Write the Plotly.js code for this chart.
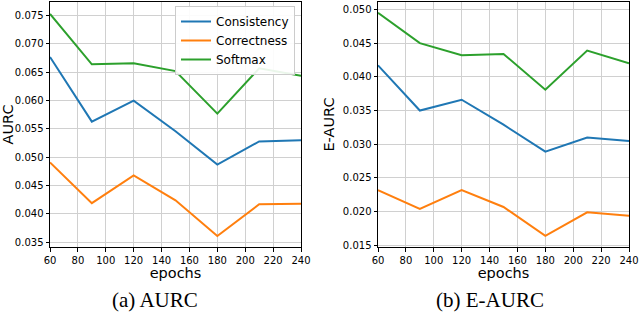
<!DOCTYPE html>
<html><head><meta charset="utf-8">
<script src="https://cdn.plot.ly/plotly-3.0.1.min.js"></script>
<style>body{margin:0;padding:0;}#chart{width:640px;height:315px;}</style>
</head><body><div id="chart"></div>
<script>
const epochs = [60, 90, 120, 150, 180, 210, 240];
const aurcConsistency = [0.0677, 0.0563, 0.0600, 0.0546, 0.0487, 0.0528, 0.0530];
const aurcCorrectness = [0.0491, 0.0419, 0.0468, 0.0424, 0.0361, 0.0417, 0.0418];
const aurcSoftmax     = [0.0753, 0.0664, 0.0666, 0.0652, 0.0577, 0.0657, 0.0644];
const eaurcConsistency = [0.0417, 0.0350, 0.0366, 0.0329, 0.0289, 0.0310, 0.0305];
const eaurcCorrectness = [0.0232, 0.0204, 0.0232, 0.0207, 0.0164, 0.0199, 0.0194];
const eaurcSoftmax     = [0.0495, 0.0450, 0.0432, 0.0434, 0.0381, 0.0439, 0.0420];
const seriesNames = ['Consistency', 'Correctness', 'Softmax'];
const colors = ['#1f77b4', '#ff7f0e', '#2ca02c'];
const xTicks = [60, 80, 100, 120, 140, 160, 180, 200, 220, 240];

const leftData = [aurcConsistency, aurcCorrectness, aurcSoftmax];
const rightData = [eaurcConsistency, eaurcCorrectness, eaurcSoftmax];
const traces = [];
leftData.forEach((ys, i) => traces.push({x: epochs, y: ys, type: 'scatter', mode: 'lines', name: seriesNames[i],
  line: {color: colors[i], width: 2}, xaxis: 'x', yaxis: 'y', showlegend: true}));
rightData.forEach((ys, i) => traces.push({x: epochs, y: ys, type: 'scatter', mode: 'lines', name: seriesNames[i],
  line: {color: colors[i], width: 2}, xaxis: 'x2', yaxis: 'y2', showlegend: false}));

const font = {family: 'DejaVu Sans', size: 10, color: '#000'};
const titleFont = {family: 'DejaVu Sans', size: 14.5, color: '#000'};
const serif = {family: '"Liberation Serif", "DejaVu Serif", serif', size: 21, color: '#000'};
const axBase = {showline: true, mirror: true, linecolor: '#000', linewidth: 1, ticks: 'outside', ticklen: 3.5,
  tickcolor: '#000', showgrid: true, gridcolor: '#d0d0d0', gridwidth: 1, zeroline: false, tickfont: font};
const yTop = 1 - 2/315, yBot = 1 - 247/315;
const layout = {
  width: 640, height: 315, margin: {l: 0, r: 0, t: 0, b: 0},
  paper_bgcolor: '#fff', plot_bgcolor: '#fff', font: font,
  xaxis: Object.assign({}, axBase, {domain: [50/640, 301/640], range: [60, 240], tickvals: xTicks,
    title: {text: 'epochs', font: titleFont, standoff: 3}}),
  yaxis: Object.assign({}, axBase, {domain: [yBot, yTop], range: [0.03417, 0.0774], tickvals: [0.035,0.040,0.045,0.050,0.055,0.060,0.065,0.070,0.075],
    tickformat: '.3f', title: {text: 'AURC', font: titleFont, standoff: 4}}),
  xaxis2: Object.assign({}, axBase, {domain: [378/640, 629/640], range: [60, 240], tickvals: xTicks, anchor: 'y2',
    title: {text: 'epochs', font: titleFont, standoff: 3}}),
  yaxis2: Object.assign({}, axBase, {domain: [yBot, yTop], range: [0.01476, 0.0511], anchor: 'x2',
    tickvals: [0.015,0.020,0.025,0.030,0.035,0.040,0.045,0.050], tickformat: '.3f',
    title: {text: 'E-AURC', font: titleFont, standoff: 4}}),
  legend: {x: 295/640, y: 1 - 6/315, xanchor: 'right', yanchor: 'top', bgcolor: 'rgba(255,255,255,0.9)',
    bordercolor: '#cccccc', borderwidth: 1, font: {family: 'DejaVu Sans', size: 12}, tracegroupgap: 0},
  annotations: [
    {text: '(a) AURC', xref: 'paper', yref: 'paper', x: 155/640, y: 1 - 314/315, xanchor: 'center', yanchor: 'bottom',
     showarrow: false, font: serif},
    {text: '(b) E-AURC', xref: 'paper', yref: 'paper', x: 490/640, y: 1 - 314/315, xanchor: 'center', yanchor: 'bottom',
     showarrow: false, font: serif}
  ]
};
Plotly.newPlot('chart', traces, layout, {displayModeBar: false, staticPlot: true});
</script></body></html>
